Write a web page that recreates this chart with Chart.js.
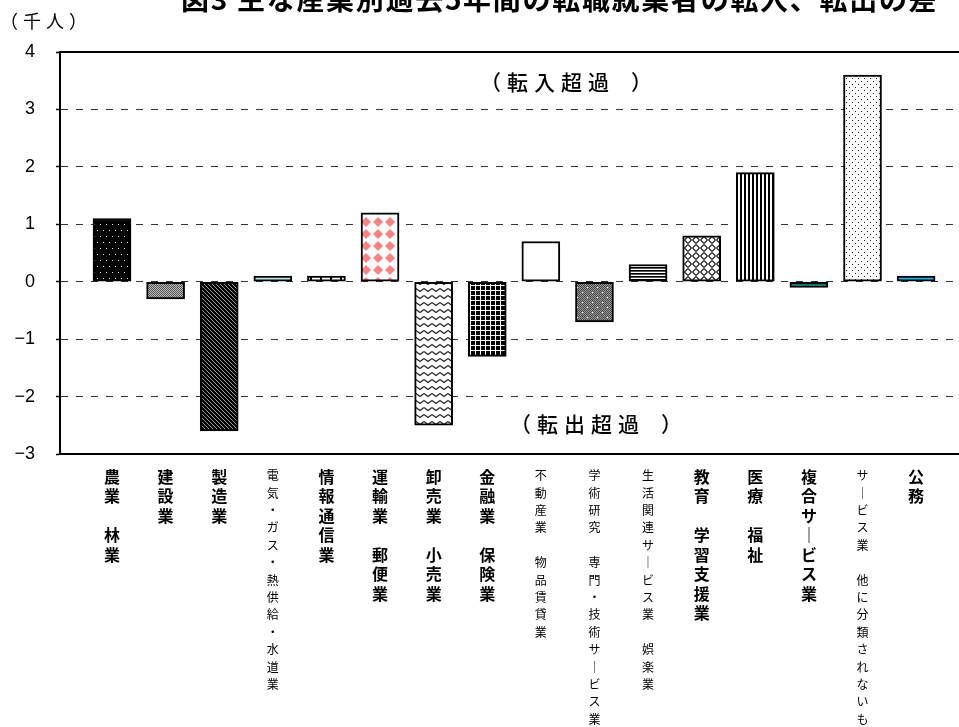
<!DOCTYPE html>
<html lang="ja">
<head>
<meta charset="utf-8">
<script src="https://cdn.jsdelivr.net/npm/chart.js@4.4.1/dist/chart.umd.min.js"></script>
<style>
  html, body { margin: 0; padding: 0; background: #fff; overflow: hidden; }
  #wrap { position: relative; width: 959px; height: 727px; overflow: hidden; }
  canvas { position: absolute; left: 0; top: 0; }
  .t { position: absolute; white-space: nowrap; line-height: 1; color: #000; font-family: "Noto Sans CJK JP", sans-serif; }
  #title { left: 181px; top: -16px; font-size: 28px; font-weight: bold; letter-spacing: 1.7px; }
  #unit { left: 0px; top: 11px; font-size: 18px; letter-spacing: 5px; }
  #inAnn { left: 480px; top: 71px; font-size: 21px; letter-spacing: 6px; font-weight: 500; }
  #outAnn { left: 510px; top: 413px; font-size: 21px; letter-spacing: 6px; font-weight: 500; }
  .cp { margin-left: 16px; }
</style>
</head>
<body>
<div id="wrap">
  <canvas id="c" width="959" height="727"></canvas>
  <div class="t" id="title">図3 主な産業別過去5年間の転職就業者の転入、転出の差</div>
  <div class="t" id="unit">（千人）</div>
  <div class="t" id="inAnn">（転入超過<span class="cp">）</span></div>
  <div class="t" id="outAnn">（転出超過<span class="cp">）</span></div>
</div>
<script>
// ---- data ----
const categories = [
  '農業 林業',
  '建設業',
  '製造業',
  '電気・ガス・熱供給・水道業',
  '情報通信業',
  '運輸業 郵便業',
  '卸売業 小売業',
  '金融業 保険業',
  '不動産業 物品賃貸業',
  '学術研究 専門・技術サービス業',
  '生活関連サービス業 娯楽業',
  '教育 学習支援業',
  '医療 福祉',
  '複合サービス業',
  'サービス業 他に分類されないもの',
  '公務'
];
const values = [1.1, -0.3, -2.6, 0.1, 0.1, 1.2, -2.5, -1.3, 0.7, -0.7, 0.3, 0.8, 1.9, -0.1, 3.6, 0.1];
const yTickLabels = ['−3', '−2', '−1', '0', '1', '2', '3', '4'];
const yMin = -3, yMax = 4;

// ---- styles ----
const smallLabel = [false, false, false, true, false, false, false, false, true, true, true, false, false, false, true, false];

const canvas = document.getElementById('c');
const ctx = canvas.getContext('2d');

function tile(w, h, fn) {
  const c = document.createElement('canvas');
  c.width = w; c.height = h;
  const g = c.getContext('2d');
  fn(g, w, h);
  return ctx.createPattern(c, 'repeat');
}

const fills = [
  // 農業 林業: black with white dots
  tile(6, 12, (g) => { g.fillStyle = '#000'; g.fillRect(0, 0, 6, 12); g.fillStyle = '#e8e8e8'; g.fillRect(1, 2, 1, 1); g.fillRect(4, 8, 1, 1); }),
  // 建設業: gray stipple
  tile(2, 2, (g) => { g.fillStyle = '#bbb'; g.fillRect(0, 0, 2, 2); g.fillStyle = '#555'; g.fillRect(0, 0, 1, 1); g.fillRect(1, 1, 1, 1); }),
  // 製造業: black with diagonal light lines
  tile(4, 4, (g) => { g.fillStyle = '#000'; g.fillRect(0, 0, 4, 4); g.fillStyle = '#9a9a9a'; for (let i = 0; i < 4; i++) g.fillRect(i, i, 1, 1); }),
  // 電気
  '#b0f2f2',
  // 情報通信業: white with vertical lines
  tile(10, 4, (g) => { g.fillStyle = '#fff'; g.fillRect(0, 0, 10, 4); g.fillStyle = '#000'; g.fillRect(0, 0, 2, 4); }),
  // 運輸業: pink diamonds
  tile(12, 12, (g) => { g.fillStyle = '#fff'; g.fillRect(0, 0, 12, 12); g.fillStyle = '#ff8080'; g.beginPath(); g.moveTo(6, 1); g.lineTo(11, 6); g.lineTo(6, 11); g.lineTo(1, 6); g.closePath(); g.fill(); }),
  // 卸売業: zigzag
  tile(8, 7, (g) => { g.fillStyle = '#fff'; g.fillRect(0, 0, 8, 7); g.strokeStyle = '#222'; g.lineWidth = 1.2; g.beginPath(); g.moveTo(0, 1.5); g.lineTo(4, 4.5); g.lineTo(8, 1.5); g.stroke(); }),
  // 金融業: black with white grid
  tile(5, 5, (g) => { g.fillStyle = '#000'; g.fillRect(0, 0, 5, 5); g.fillStyle = '#fff'; g.fillRect(0, 0, 5, 1); g.fillRect(0, 0, 1, 5); }),
  // 不動産業: white
  '#ffffff',
  // 学術研究: gray stipple with white dots
  tile(10, 10, (g) => {
    for (let x = 0; x < 10; x++) for (let y = 0; y < 10; y++) { g.fillStyle = ((x + y) % 2) ? '#9a9a9a' : '#444'; g.fillRect(x, y, 1, 1); }
    g.fillStyle = '#fff'; g.fillRect(2, 2, 1, 1); g.fillRect(7, 7, 1, 1);
  }),
  // 生活関連: horizontal lines
  tile(1, 3, (g) => { g.fillStyle = '#fff'; g.fillRect(0, 0, 1, 3); g.fillStyle = '#000'; g.fillRect(0, 0, 1, 1); g.fillStyle = '#555'; g.fillRect(0, 1, 1, 1); }),
  // 教育: weave
  tile(8, 8, (g) => {
    g.fillStyle = '#fff'; g.fillRect(0, 0, 8, 8);
    g.strokeStyle = '#333'; g.lineWidth = 1.4; g.beginPath();
    g.moveTo(0, 3.5); g.lineTo(3.5, 0);
    g.moveTo(4.5, 8); g.lineTo(8, 4.5);
    g.moveTo(4.5, 0); g.lineTo(8, 3.5);
    g.moveTo(0, 4.5); g.lineTo(3.5, 8);
    g.stroke();
  }),
  // 医療 福祉: vertical stripes
  tile(4, 1, (g) => { g.fillStyle = '#fff'; g.fillRect(0, 0, 4, 1); g.fillStyle = '#000'; g.fillRect(0, 0, 2, 1); }),
  // 複合サービス業
  '#008080',
  // サービス業: sparse dots
  tile(6, 6, (g) => { g.fillStyle = '#fff'; g.fillRect(0, 0, 6, 6); g.fillStyle = '#222'; g.fillRect(0, 0, 1, 1); g.fillRect(3, 3, 1, 1); }),
  // 公務
  '#10b8f0'
];

const vertLabels = categories.map(s => Array.from(s).map(ch => ch === ' ' ? '' : (ch === 'ー' ? '｜' : ch)));

const xMin = -0.97, xMax = 15.8;

new Chart(ctx, {
  type: 'bar',
  data: {
    datasets: [{
      data: values.map((v, i) => ({ x: i, y: v })),
      backgroundColor: fills,
      borderColor: '#000',
      borderWidth: 2,
      borderSkipped: false,
      barThickness: 38
    }]
  },
  options: {
    responsive: false,
    devicePixelRatio: 1,
    animation: false,
    layout: { padding: { top: 52, left: 0, right: 0, bottom: 0 } },
    plugins: { legend: { display: false }, tooltip: { enabled: false }, title: { display: false } },
    scales: {
      x: {
        type: 'linear',
        position: 'bottom',
        offset: false,
        min: xMin, max: xMax,
        afterBuildTicks: (scale) => { scale.ticks = categories.map((_, i) => ({ value: i })); },
        afterFit: (scale) => { scale.height = 273; },
        grid: { display: false, drawTicks: false, offset: false },
        border: { display: true, color: '#000', width: 2 },
        ticks: {
          autoSkip: false,
          maxRotation: 0, minRotation: 0,
          padding: 13,
          color: '#000',
          callback: (value, index) => vertLabels[index],
          font: (c) => smallLabel[c.index]
            ? { family: '"Noto Sans CJK JP", sans-serif', size: 12, lineHeight: 1.45 }
            : { family: '"Noto Sans CJK JP", sans-serif', size: 16, weight: 'bold', lineHeight: 1.22 }
        }
      },
      x2: {
        type: 'linear',
        position: 'top',
        offset: false,
        min: xMin, max: xMax,
        afterFit: (scale) => { scale.height = 0; },
        grid: { display: false, drawTicks: false, offset: false },
        border: { display: true, color: '#000', width: 2 },
        ticks: { display: false }
      },
      y: {
        min: yMin, max: yMax,
        afterFit: (scale) => { scale.width = 60; },
        ticks: {
          stepSize: 1,
          padding: 21,
          color: '#000',
          font: { family: '"Liberation Sans", Arial, sans-serif', size: 18 },
          callback: (value) => yTickLabels[Math.round(value - yMin)]
        },
        grid: {
          color: '#333',
          lineWidth: 1,
          drawTicks: true,
          tickLength: 4,
          tickColor: '#000',
          tickWidth: 1.5,
          tickBorderDash: []
        },
        border: { display: true, color: '#000', width: 2, dash: [7, 8] }
      }
    }
  }
});
</script>
</body>
</html>
